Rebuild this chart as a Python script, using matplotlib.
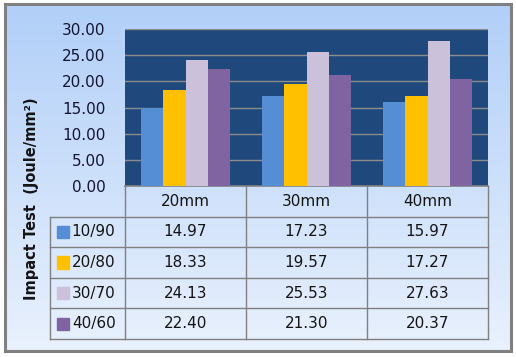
import numpy as np
import matplotlib
matplotlib.use('Agg')
import matplotlib.pyplot as plt
from matplotlib.patches import Rectangle

categories = ['20mm', '30mm', '40mm']
series = ['10/90', '20/80', '30/70', '40/60']
v_10_90 = [14.97, 17.23, 15.97]
v_20_80 = [18.33, 19.57, 17.27]
v_30_70 = [24.13, 25.53, 27.63]
v_40_60 = [22.40, 21.30, 20.37]
values = [v_10_90, v_20_80, v_30_70, v_40_60]
colors = ['#558ED5', '#FFC000', '#CCC1DA', '#8064A2']
yticks = [0, 5, 10, 15, 20, 25, 30]

W, H = 516, 357
fig = plt.figure(figsize=(W/100, H/100), dpi=100)
fig.patch.set_facecolor('white')

def px(x0, y0, x1, y1):
    # pixel box -> figure fraction [left, bottom, width, height]
    return [x0/W, 1-y1/H, (x1-x0)/W, (y1-y0)/H]

# background gradient with gray frame
bg = fig.add_axes(px(5, 4, 511, 351))
grad = np.linspace(0, 1, 256).reshape(-1, 1)
cmap = matplotlib.colors.LinearSegmentedColormap.from_list('bg', ['#B1CFF8', '#E9F1FD'])
bg.imshow(grad, aspect='auto', cmap=cmap, extent=[0, 1, 0, 1], origin='upper')
bg.set_xticks([]); bg.set_yticks([])
for s in bg.spines.values():
    s.set_color('#808080'); s.set_linewidth(2.2)

# bar chart
ax = fig.add_axes(px(125, 29, 488, 186))
ax.set_facecolor('#1F497D')
x = np.arange(len(categories))
bw = 0.182
for i, (name, vals) in enumerate(zip(series, values)):
    ax.bar(x + (i - 1.5) * bw, vals, bw, color=colors[i], zorder=3)
ax.set_xlim(-0.5, 2.5)
ax.set_ylim(0, 30)
ax.set_yticks(yticks)
ax.set_yticklabels(['%.2f' % t for t in yticks], fontsize=11, color='#141432')
ax.yaxis.grid(True, color='#8C8C8C', linewidth=1.0, zorder=1)
ax.tick_params(axis='y', length=0, pad=14)
ax.set_xticks([])
for s in ax.spines.values():
    s.set_visible(False)
ax.spines['bottom'].set_visible(True)
ax.spines['bottom'].set_color('#808080')
ax.spines['bottom'].set_linewidth(1.2)

# data table
leg_w = 75/121
tb = fig.add_axes(px(50, 186, 488, 339))
tb.set_xlim(-0.5 - leg_w, 2.5)
tb.set_ylim(5, 0)
tb.axis('off')
lc = '#808080'
lw = 1.0
for xv in [-0.5, 0.5, 1.5, 2.5]:
    tb.plot([xv, xv], [0, 5], color=lc, lw=lw, clip_on=False)
tb.plot([-0.5 - leg_w] * 2, [1, 5], color=lc, lw=lw, clip_on=False)
for yv in [1, 2, 3, 4, 5]:
    tb.plot([-0.5 - leg_w, 2.5], [yv, yv], color=lc, lw=lw, clip_on=False)
for j, c in enumerate(categories):
    tb.text(j, 0.5, c, ha='center', va='center', fontsize=11, color='#141414')
for i, (name, vals) in enumerate(zip(series, values)):
    r = i + 1.5
    tb.add_patch(Rectangle((-0.5 - leg_w + 0.058, r - 0.2), 0.098, 0.4,
                           color=colors[i], clip_on=False))
    tb.text(-0.5 - leg_w + 0.18, r, name, ha='left', va='center', fontsize=11, color='#141414')
    for j, v in enumerate(vals):
        tb.text(j, r, '%.2f' % v, ha='center', va='center', fontsize=11, color='#141414')

fig.text(32/W, 1 - 199/H, 'Impact Test  (Joule/mm\u00b2)', rotation=90, ha='center', va='center',
         fontsize=10.5, fontweight='bold', color='#141414')

fig.savefig('out.png', dpi=100)
